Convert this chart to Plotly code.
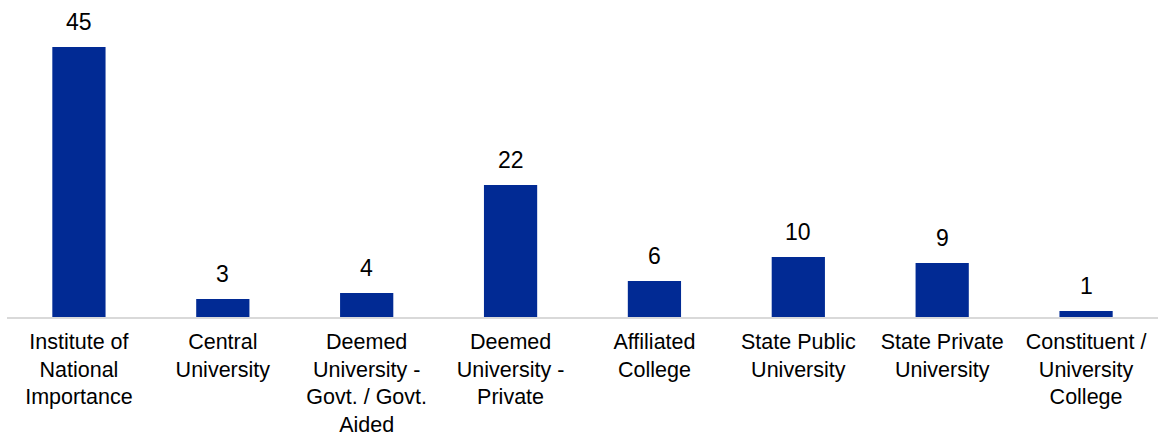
import plotly.graph_objects as go

categories = [
    "Institute of<br>National<br>Importance",
    "Central<br>University",
    "Deemed<br>University -<br>Govt. / Govt.<br>Aided",
    "Deemed<br>University -<br>Private",
    "Affiliated<br>College",
    "State Public<br>University",
    "State Private<br>University",
    "Constituent /<br>University<br>College",
]
values = [45, 3, 4, 22, 6, 10, 9, 1]

BAR_COLOR = "#012A94"
FONT = "Liberation Sans, Arial, sans-serif"

fig = go.Figure(go.Bar(
    x=list(range(len(categories))),
    y=values,
    marker=dict(color=BAR_COLOR, line=dict(width=0)),
    hoverinfo="skip",
))

for i, v in enumerate(values):
    fig.add_annotation(x=i, y=v, text=str(v), showarrow=False,
                       yanchor="bottom", yshift=10,
                       font=dict(family=FONT, size=23, color="#000000"))

fig.update_layout(
    width=1162, height=439,
    margin=dict(l=7, r=4, t=0, b=122, autoexpand=False),
    paper_bgcolor="white", plot_bgcolor="white",
    bargap=0.63,
    showlegend=False,
    font=dict(family=FONT, size=21.5, color="#000000"),
)
fig.update_xaxes(
    tickmode="array", tickvals=list(range(len(categories))), ticktext=categories,
    range=[-0.5, 7.5], showgrid=False, zeroline=False,
    showline=True, linecolor="#D9D9D9", linewidth=1.5,
    ticks="", tickangle=0, ticklabelstandoff=4, automargin=False,
    tickfont=dict(family=FONT, size=21.5, color="#000000"),
)
fig.update_yaxes(range=[0, 52.83], visible=False, showgrid=False, zeroline=False,
                 automargin=False)

fig.write_html("out.html", config={"displayModeBar": False},
               post_script="document.body.style.margin='0';document.body.style.overflow='hidden';")
